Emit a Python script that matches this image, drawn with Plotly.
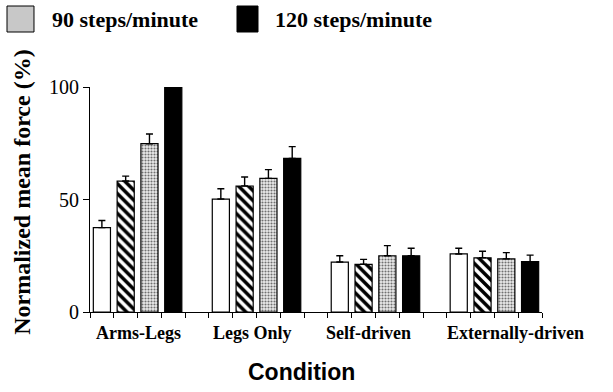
import plotly.graph_objects as go

# Conditions along the x axis
conditions = ["Arms-Legs", "Legs Only", "Self-driven", "Externally-driven"]

# Normalized mean force (%) for each cadence / bar style, and the top of each error bar
bar_names = ["Series A", "Series B", "90 steps/minute", "120 steps/minute"]
means = [
    [37.5, 50.2, 22.2, 25.8],   # open bars
    [58.2, 56.0, 21.2, 24.1],   # hatched bars
    [74.8, 59.4, 25.0, 23.6],   # stippled bars (90 steps/minute)
    [100.0, 68.3, 25.0, 22.4],  # solid bars (120 steps/minute)
]
err_tops = [
    [40.7, 54.8, 25.0, 28.3],
    [60.4, 60.0, 23.4, 27.0],
    [79.1, 63.3, 29.5, 26.4],
    [100.0, 73.5, 28.3, 25.3],
]

y_ticks = [0, 50, 100]

SERIF = "Liberation Serif"
SANS = "Liberation Sans"

# each condition occupies 5 slots on a unit-spaced axis: 4 bars + 1 gap
slots_per_group = 5
n_slots = slots_per_group * len(conditions) - 1

styles = [
    dict(color="white", pattern=None),
    dict(color="white", pattern=dict(shape="\\", fgcolor="black", bgcolor="white",
                                     size=7, solidity=0.5, fillmode="replace")),
    dict(color="#dcdcdc", pattern=dict(shape=".", fgcolor="#707070", bgcolor="#ececec",
                                       size=3, solidity=0.4, fillmode="replace")),
    dict(color="black", pattern=None),
]

fig = go.Figure()
for k, (name, vals, tops, st) in enumerate(zip(bar_names, means, err_tops, styles)):
    xs = [g * slots_per_group + k + 0.5 for g in range(len(conditions))]
    marker = dict(color=st["color"], line=dict(color="black", width=1.2))
    if st["pattern"] is not None:
        marker["pattern"] = st["pattern"]
    fig.add_trace(go.Bar(
        x=xs, y=vals, width=0.72, name=name, marker=marker,
        error_y=dict(type="data", symmetric=False,
                     array=[t - v for t, v in zip(tops, vals)],
                     arrayminus=[0] * len(vals),
                     color="black", thickness=1.4, width=3.5),
        showlegend=False,
    ))

# category labels under each group of bars
label_x = [2.02, 6.85, 11.69, 17.9]
for lab, lx in zip(conditions, label_x):
    fig.add_annotation(x=lx, xref="x", y=-0.093, yref="paper", text=lab,
                       showarrow=False, xanchor="center", yanchor="middle",
                       font=dict(family=SERIF, size=18, color="black", weight="bold"))

# axis titles
fig.add_annotation(x=0.469, y=-0.267, xref="paper", yref="paper", text="Condition",
                   showarrow=False, xanchor="center", yanchor="middle",
                   font=dict(family=SANS, size=23, color="black", weight="bold"))
fig.add_annotation(x=-0.152, y=0.531, xref="paper", yref="paper",
                   text="Normalized mean force (%)", textangle=-90,
                   showarrow=False, xanchor="center", yanchor="middle",
                   font=dict(family=SERIF, size=24, color="black", weight="bold"))

# key along the top
key = [
    (-0.1836, -0.1239, "#c8c8c8", -0.0885, "90 steps/minute"),
    (0.3252, 0.3717, "black", 0.4049, "120 steps/minute"),
]
for x0, x1, fill, tx, txt in key:
    fig.add_shape(type="rect", xref="paper", yref="paper", x0=x0, x1=x1,
                  y0=1.2444, y1=1.36, fillcolor=fill,
                  line=dict(color="black", width=1))
    fig.add_annotation(x=tx, y=1.302, xref="paper", yref="paper", text=txt,
                       showarrow=False, xanchor="left", yanchor="middle",
                       font=dict(family=SERIF, size=22, color="black", weight="bold"))

fig.update_layout(
    width=613, height=392,
    margin=dict(l=90, r=71, t=87, b=80),
    paper_bgcolor="white", plot_bgcolor="white",
    barmode="overlay",
    xaxis=dict(range=[0, n_slots], showline=True, linecolor="black", linewidth=1.2,
               tickmode="array", tickvals=list(range(n_slots + 1)), ticks="outside",
               ticklen=5, tickcolor="black", tickwidth=1.2, showticklabels=False,
               showgrid=False, zeroline=False),
    yaxis=dict(range=[0, 100], showline=True, linecolor="black", linewidth=1.2,
               tickmode="array", tickvals=y_ticks, ticks="outside", ticklen=6,
               tickcolor="black", tickwidth=1.2, showgrid=False, zeroline=False,
               tickfont=dict(family=SERIF, size=20, color="black")),
)

fig.write_html("out.html")
